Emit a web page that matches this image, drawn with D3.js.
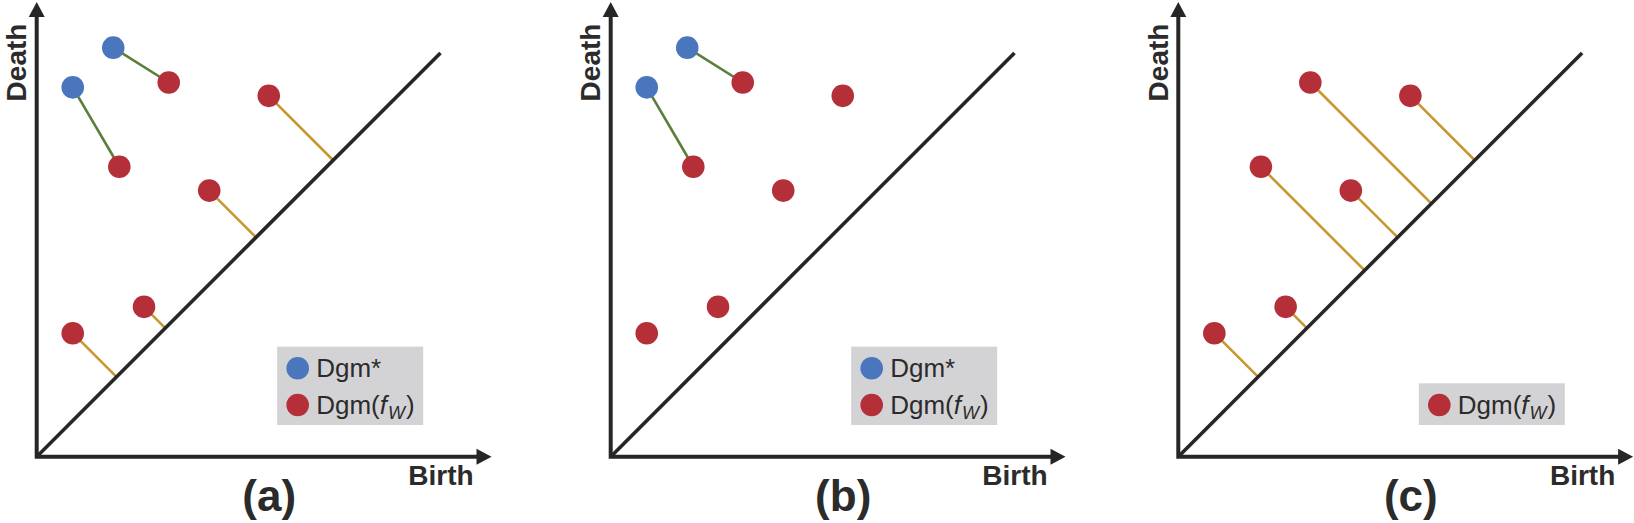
<!DOCTYPE html>
<html>
<head>
<meta charset="utf-8">
<script src="https://cdn.jsdelivr.net/npm/d3@7/dist/d3.min.js"></script>
<style>
body { margin: 0; background: #fff; }
text { font-family: "Liberation Sans", Arial, sans-serif; fill: #2b2b2b; }
</style>
</head>
<body>
<div id="main"></div>
<script>

// Persistence points (birth, death)
var redBirth = [3.26, 2.04, 5.73, 4.26, 2.65, 0.89],
	redDeath = [9.24, 7.16, 8.91, 6.57, 3.70, 3.05];

var starBirth = [1.89, 0.89],
	starDeath = [10.10, 9.12];

// Dgm* point i is matched to red point starMatch[i]
var starMatch = [0, 1];

var panelLabels = ["(a)", "(b)", "(c)"],
	showStars = [true, true, false],
	showDiagLinks = [true, false, true];

var axisLabels = ["Birth", "Death"];

//Width and height
var w = 1634,
	h = 523;

var panelX = [36.7, 610.7, 1178.3],
	originY = 456.7;

var colors = {
	star: "#4a76bd",
	red: "#b52f38",
	green: "#5a7f3b",
	gold: "#c8972f",
	axis: "#262626",
	legend: "#d3d3d6"
};

var x = d3.scaleLinear().domain([0, 10]).range([0, 405]),
	y = d3.scaleLinear().domain([0, 10]).range([0, -405]);

var axisMax = 11.23,
	diagMax = 9.97;

var svg = d3.select("#main")
	.append("svg")
	.attr("width", w)
	.attr("height", h);

var reds = redBirth.map(function(b, i) { return {b: b, d: redDeath[i], i: i}; });
var stars = starBirth.map(function(b, i) { return {b: b, d: starDeath[i], m: starMatch[i]}; });

panelLabels.forEach(function(label, p) {

	var g = svg.append("g")
		.attr("transform", "translate(" + panelX[p] + "," + originY + ")");

	var matched = showStars[p] ? starMatch : [];

	// gold links to the diagonal
	if (showDiagLinks[p]) {
		g.selectAll(".diag-link")
			.data(reds.filter(function(r) { return matched.indexOf(r.i) < 0; }))
			.enter()
			.append("line")
			.attr("x1", function(r) { return x(r.b); })
			.attr("y1", function(r) { return y(r.d); })
			.attr("x2", function(r) { return x((r.b + r.d) / 2); })
			.attr("y2", function(r) { return y((r.b + r.d) / 2); })
			.attr("stroke", colors.gold)
			.attr("stroke-width", 2.6);
	}

	// green matching links
	if (showStars[p]) {
		g.selectAll(".match-link")
			.data(stars)
			.enter()
			.append("line")
			.attr("x1", function(s) { return x(s.b); })
			.attr("y1", function(s) { return y(s.d); })
			.attr("x2", function(s) { return x(reds[s.m].b); })
			.attr("y2", function(s) { return y(reds[s.m].d); })
			.attr("stroke", colors.green)
			.attr("stroke-width", 2.6);
	}

	// diagonal
	g.append("line")
		.attr("x1", x(0)).attr("y1", y(0))
		.attr("x2", x(diagMax)).attr("y2", y(diagMax))
		.attr("stroke", colors.axis)
		.attr("stroke-width", 3.6);

	// axes with arrow heads
	var tipX = x(axisMax), tipY = y(axisMax);
	g.append("path")
		.attr("d", "M0,0H" + (tipX - 14) + "M0,0V" + (tipY + 14))
		.attr("stroke", colors.axis)
		.attr("stroke-width", 4)
		.attr("fill", "none")
		.attr("stroke-linecap", "square");
	g.append("path")
		.attr("d", "M" + tipX + ",0L" + (tipX - 15) + ",-8L" + (tipX - 15) + ",8Z")
		.attr("fill", colors.axis);
	g.append("path")
		.attr("d", "M0," + tipY + "L-8," + (tipY + 15) + "L8," + (tipY + 15) + "Z")
		.attr("fill", colors.axis);

	// red points
	g.selectAll(".red")
		.data(reds)
		.enter()
		.append("circle")
		.attr("cx", function(r) { return x(r.b); })
		.attr("cy", function(r) { return y(r.d); })
		.attr("r", 11.3)
		.attr("fill", colors.red);

	if (showStars[p]) {
		g.selectAll(".star")
			.data(stars)
			.enter()
			.append("circle")
			.attr("cx", function(s) { return x(s.b); })
			.attr("cy", function(s) { return y(s.d); })
			.attr("r", 11.3)
			.attr("fill", colors.star);
	}

	// axis labels
	g.append("text")
		.attr("x", 437)
		.attr("y", 28.8)
		.attr("text-anchor", "end")
		.style("font-weight", "bold")
		.style("font-size", "28px")
		.text(axisLabels[0]);

	g.append("text")
		.attr("transform", "translate(-10.5," + (62.5 - originY) + ") rotate(-90)")
		.attr("text-anchor", "middle")
		.style("font-weight", "bold")
		.style("font-size", "28px")
		.text(axisLabels[1]);

	// panel label
	g.append("text")
		.attr("x", 232.5)
		.attr("y", 54)
		.attr("text-anchor", "middle")
		.style("font-weight", "bold")
		.style("font-size", "44px")
		.text(label);

	// legend
	var entries = showStars[p] ? ["star", "red"] : ["red"];
	var bottom = -31.7,
		rowH = 36.7,
		boxH = 5 + rowH * entries.length;

	var lg = g.append("g");
	lg.append("rect")
		.attr("x", 240.5)
		.attr("y", bottom - boxH)
		.attr("width", 146)
		.attr("height", boxH)
		.attr("fill", colors.legend);

	entries.forEach(function(e, k) {
		var cy = bottom - 20 - (entries.length - 1 - k) * rowH;
		lg.append("circle")
			.attr("cx", 261)
			.attr("cy", cy)
			.attr("r", 11.3)
			.attr("fill", colors[e]);
		var t = lg.append("text")
			.attr("x", 279.5)
			.attr("y", cy + 9)
			.style("font-size", "26px");
		if (e === "star") {
			t.text("Dgm*");
		} else {
			t.append("tspan").text("Dgm(");
			t.append("tspan").style("font-style", "italic").text("f");
			t.append("tspan").style("font-style", "italic").style("font-size", "18px")
				.attr("dx", 1).attr("dy", 5).text("W");
			t.append("tspan").attr("dx", 1).attr("dy", -5).text(")");
		}
	});

});

</script>
</body>
</html>
